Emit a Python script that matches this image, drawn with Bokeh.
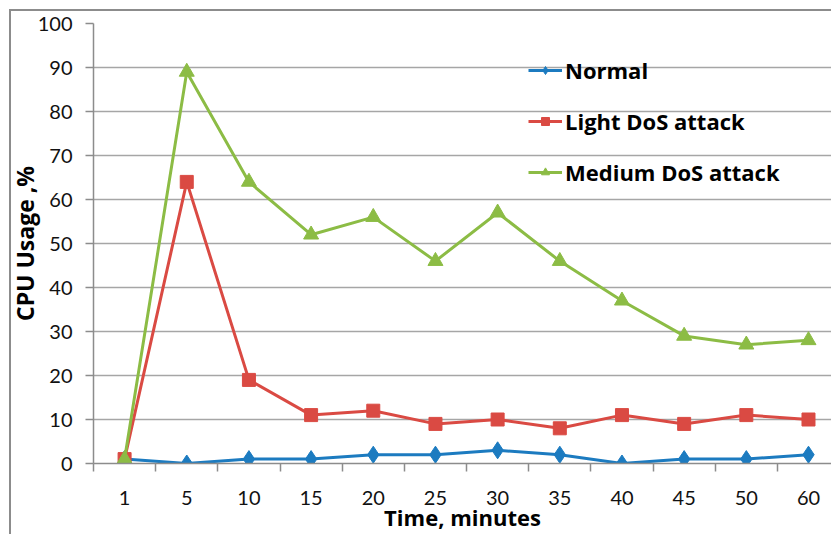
from bokeh.plotting import figure
from bokeh.models import FixedTicker, Legend, LegendItem, Range1d, ColumnDataSource
from bokeh.embed import file_html
from bokeh.resources import INLINE
import numpy as np

categories = ["1", "5", "10", "15", "20", "25", "30", "35", "40", "45", "50", "60"]
normal = [1, 0, 1, 1, 2, 2, 3, 2, 0, 1, 1, 2]
light_dos = [1, 64, 19, 11, 12, 9, 10, 8, 11, 9, 11, 10]
medium_dos = [1, 89, 64, 52, 56, 46, 57, 46, 37, 29, 27, 28]
y_ticks = list(range(0, 101, 10))

FONT = "Lato"
BFONT = "Open Sans"
BLUE = "#1C7BC0"
RED = "#DA4A43"
GREEN = "#8CBC45"

x = np.arange(len(categories)) + 0.5
src = ColumnDataSource(dict(x=x, normal=normal, light=light_dos, medium=medium_dos,
                            blank=np.full(len(categories), np.nan)))

p = figure(width=831, height=534, output_backend="svg", toolbar_location=None,
           x_range=Range1d(0, 11.87), y_range=Range1d(0, 100),
           min_border_left=93, min_border_top=23, min_border_bottom=71, min_border_right=0)
p.outline_line_color = None
p.border_fill_color = None
p.background_fill_color = "white"
p.styles = {
    "background": "linear-gradient(#8C8C8C, #8C8C8C) 9px 9px / 2px 600px no-repeat, "
                  "linear-gradient(#8C8C8C, #8C8C8C) 9px 9px / 900px 2px no-repeat, white"
}

xt = FixedTicker(ticks=list(x), minor_ticks=list(np.arange(len(categories) + 1)))
p.xaxis.ticker = xt
p.xaxis.major_label_overrides = {float(v): c for v, c in zip(x, categories)}
p.xaxis.major_tick_out = 0
p.xaxis.major_tick_in = 0
p.xaxis.minor_tick_out = 8
p.xaxis.minor_tick_in = 0
p.xaxis.axis_line_color = "#8C8C8C"
p.xaxis.minor_tick_line_color = "#8C8C8C"
p.xaxis.axis_line_width = 1.5
p.xaxis.minor_tick_line_width = 1.5
p.xaxis.major_label_standoff = 19
p.xaxis.axis_label = "Time, minutes"
p.xaxis.axis_label_standoff = -6

p.yaxis.ticker = FixedTicker(ticks=y_ticks)
p.yaxis.minor_tick_out = 0
p.yaxis.minor_tick_in = 0
p.yaxis.major_tick_out = 8
p.yaxis.major_tick_in = 0
p.yaxis.axis_line_color = "#8C8C8C"
p.yaxis.major_tick_line_color = "#8C8C8C"
p.yaxis.axis_line_width = 1.5
p.yaxis.major_tick_line_width = 1.5
p.yaxis.major_label_standoff = 13
p.yaxis.axis_label = "CPU Usage ,%"
p.yaxis.axis_label_standoff = -6

for ax in (p.xaxis, p.yaxis):
    ax.major_label_text_font = FONT
    ax.major_label_text_font_size = "20px"
    ax.major_label_text_color = "#111111"
    ax.axis_label_text_font = BFONT
    ax.axis_label_text_font_style = "bold"
    ax.axis_label_text_color = "#000000"
p.xaxis.axis_label_text_font_size = "22px"
p.yaxis.axis_label_text_font_size = "23px"

p.xgrid.grid_line_color = None
p.ygrid.ticker = FixedTicker(ticks=y_ticks)
p.ygrid.grid_line_color = "#A6A6A6"
p.ygrid.grid_line_width = 1.5

series = [("Normal", "normal", BLUE, "diamond", 17, 11),
          ("Light DoS attack", "light", RED, "square", 13, 9),
          ("Medium DoS attack", "medium", GREEN, "triangle", 15, 10)]

items = []
for label, col, color, marker, size, lsize in series:
    p.line("x", col, source=src, line_color=color, line_width=3)
    p.scatter("x", col, source=src, marker=marker, size=size,
              fill_color=color, line_color=color)
    # legend-only renderers (nothing drawn in the plot; smaller legend markers)
    lr = p.line("x", "blank", source=src, line_color=color, line_width=3)
    mr = p.scatter("x", "blank", source=src, marker=marker, size=lsize,
                   fill_color=color, line_color=color)
    items.append(LegendItem(label=label, renderers=[lr, mr]))

legend = Legend(items=items, location=(435, 276), orientation="vertical")
legend.background_fill_alpha = 0
legend.border_line_color = None
legend.padding = 0
legend.margin = 0
legend.glyph_width = 34
legend.glyph_height = 20
legend.label_height = 20
legend.spacing = 21
legend.label_standoff = 3
legend.label_text_font = BFONT
legend.label_text_font_size = "22px"
legend.label_text_font_style = "bold"
legend.label_text_color = "#000000"
p.add_layout(legend)

open("out.html", "w").write(file_html(p, INLINE))
